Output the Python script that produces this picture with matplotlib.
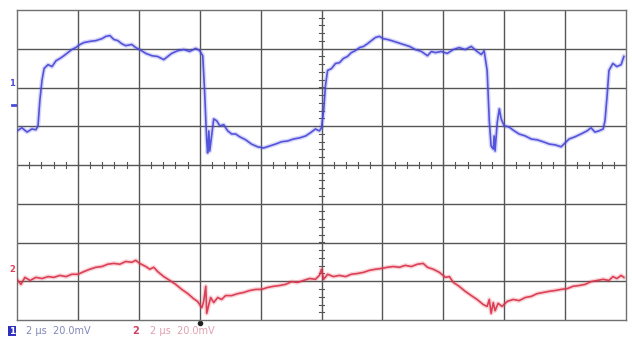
import matplotlib
matplotlib.use("Agg")
import matplotlib.pyplot as plt
import numpy as np

# Horizontal: 2 us/div, 10 divisions.  Vertical: 20 mV/div, 8 divisions (screen divisions).
t_ch1 = [0.00, 0.16, 0.33, 0.49, 0.62, 0.69, 0.75, 0.82, 0.89, 1.02, 1.15, 1.28, 1.41, 1.54,
         1.67, 1.80, 1.93, 2.07, 2.20, 2.39, 2.59, 2.79, 2.92, 3.05, 3.18, 3.31, 3.44, 3.57,
         3.77, 3.90, 4.03, 4.23, 4.43, 4.62, 4.82, 4.95, 5.08, 5.28, 5.48, 5.67, 5.87, 6.00,
         6.10, 6.16, 6.23, 6.26, 6.30, 6.33, 6.39, 6.46, 6.56, 6.66, 6.79, 6.92, 7.05, 7.18,
         7.31, 7.51, 7.70, 7.90, 8.10, 8.30, 8.49, 8.69, 8.89, 9.08, 9.28, 9.48, 9.67, 9.80,
         9.93, 10.00, 10.07, 10.13, 10.20, 10.33, 10.46, 10.59, 10.72, 10.85, 10.98, 11.11,
         11.25, 11.38, 11.51, 11.64, 11.77, 11.90, 12.03, 12.16, 12.30, 12.49, 12.69, 12.89,
         13.08, 13.28, 13.48, 13.61, 13.74, 13.93, 14.13, 14.33, 14.52, 14.72, 14.92, 15.11,
         15.25, 15.34, 15.44, 15.51, 15.57, 15.64, 15.67, 15.70, 15.77, 15.84, 15.90, 16.00,
         16.16, 16.33, 16.49, 16.69, 16.89, 17.08, 17.28, 17.48, 17.67, 17.87, 18.00, 18.13,
         18.33, 18.52, 18.72, 18.85, 18.98, 19.11, 19.25, 19.31, 19.38, 19.44, 19.57, 19.70,
         19.84, 19.93]
ch1_div = [0.88, 0.96, 0.85, 0.93, 0.91, 1.01, 1.66, 2.18, 2.49, 2.59, 2.54, 2.69, 2.75, 2.82,
           2.90, 2.98, 3.03, 3.11, 3.16, 3.19, 3.21, 3.26, 3.32, 3.34, 3.24, 3.21, 3.13, 3.08,
           3.11, 3.03, 2.98, 2.88, 2.82, 2.80, 2.72, 2.80, 2.88, 2.95, 2.98, 2.93, 3.01, 2.95,
           2.82, 1.92, 0.62, 0.31, 0.88, 0.36, 0.75, 1.19, 1.14, 1.01, 1.04, 0.88, 0.80, 0.80,
           0.73, 0.65, 0.54, 0.47, 0.44, 0.49, 0.54, 0.60, 0.62, 0.67, 0.70, 0.75, 0.85, 0.93,
           0.88, 0.96, 1.40, 2.05, 2.44, 2.49, 2.62, 2.64, 2.75, 2.80, 2.90, 2.95,
           3.03, 3.06, 3.13, 3.21, 3.29, 3.32, 3.26, 3.24, 3.21, 3.16, 3.11, 3.06,
           2.98, 2.93, 2.82, 2.93, 2.90, 2.93, 2.88, 2.98, 3.03, 2.98, 3.06, 2.93,
           2.85, 2.95, 2.44, 1.14, 0.49, 0.41, 0.75, 0.36, 1.09, 1.45, 1.19, 1.01,
           0.98, 0.88, 0.80, 0.75, 0.67, 0.65, 0.60, 0.54, 0.52, 0.47, 0.57, 0.67,
           0.73, 0.80, 0.88, 0.96, 0.85, 0.88, 0.93, 1.14, 1.79, 2.44, 2.62, 2.54,
           2.59, 2.80]

t_ch2 = [0.00, 0.13, 0.26, 0.43, 0.62, 0.82, 1.02, 1.21, 1.41, 1.61, 1.80, 2.00, 2.20, 2.39,
         2.59, 2.79, 2.98, 3.18, 3.38, 3.57, 3.77, 3.90, 4.03, 4.23, 4.36, 4.49, 4.62, 4.82,
         5.02, 5.21, 5.41, 5.61, 5.80, 5.93, 6.07, 6.13, 6.20, 6.23, 6.30, 6.36, 6.46, 6.59,
         6.72, 6.85, 7.05, 7.25, 7.44, 7.64, 7.84, 8.03, 8.23, 8.43, 8.62, 8.82, 9.02, 9.21,
         9.41, 9.61, 9.80, 9.93, 10.00, 10.07, 10.20, 10.39, 10.59, 10.79, 10.98, 11.18,
         11.38, 11.57, 11.77, 11.97, 12.16, 12.36, 12.56, 12.75, 12.95, 13.15, 13.34, 13.48,
         13.67, 13.87, 14.07, 14.20, 14.33, 14.52, 14.72, 14.92, 15.11, 15.31, 15.44, 15.51,
         15.57, 15.64, 15.70, 15.80, 15.93, 16.10, 16.30, 16.49, 16.69, 16.89, 17.08, 17.28,
         17.48, 17.67, 17.87, 18.07, 18.26, 18.46, 18.66, 18.85, 19.05, 19.25, 19.44, 19.57,
         19.70, 19.84, 19.93]
ch2_div = [-2.95, -3.08, -2.90, -2.98, -2.90, -2.93, -2.88, -2.90, -2.85, -2.88, -2.82, -2.82,
           -2.75, -2.69, -2.64, -2.62, -2.56, -2.54, -2.56, -2.49, -2.51, -2.46, -2.54, -2.62,
           -2.69, -2.64, -2.75, -2.88, -2.98, -3.08, -3.21, -3.32, -3.45, -3.52, -3.68, -3.52,
           -3.13, -3.83, -3.60, -3.42, -3.55, -3.42, -3.47, -3.37, -3.37, -3.32, -3.29, -3.24,
           -3.21, -3.21, -3.16, -3.13, -3.11, -3.08, -3.01, -3.03, -2.98, -2.93, -2.95, -2.85,
           -2.69, -2.95, -2.82, -2.88, -2.85, -2.88, -2.82, -2.80, -2.77, -2.72, -2.69, -2.67,
           -2.64, -2.62, -2.64, -2.59, -2.62, -2.56, -2.54, -2.64, -2.69, -2.77, -2.90, -2.88,
           -3.03, -3.13, -3.26, -3.37, -3.47, -3.60, -3.65, -3.47, -3.83, -3.55, -3.76, -3.57,
           -3.65, -3.52, -3.47, -3.50, -3.42, -3.39, -3.32, -3.29, -3.26, -3.24, -3.21, -3.19,
           -3.13, -3.11, -3.08, -3.01, -2.98, -2.95, -2.98, -2.88, -2.93, -2.85, -2.90]

readout_ch1 = "2 \u00b5s  20.0mV"
readout_ch2 = "2 \u00b5s  20.0mV"
trigger_time = 6.0

W, H = 632, 340
fig = plt.figure(figsize=(W / 100, H / 100), dpi=100)
ax = fig.add_axes([17 / W, (H - 320) / H, (626 - 17) / W, (320 - 10) / H])
ax.set_xlim(0, 20)
ax.set_ylim(-4, 4)
ax.set_xticks([])
ax.set_yticks([])
for s in ax.spines.values():
    s.set_color("#707070")
    s.set_linewidth(1.0)

grid_col = "#555555"
for gx in np.arange(2, 20, 2):
    ax.axvline(gx, color=grid_col, lw=1.0, zorder=1)
for gy in np.arange(-3, 4, 1):
    ax.axhline(gy, color=grid_col, lw=1.0, zorder=1)

# minor ticks on the centre cross
for mx in np.arange(0, 20.01, 0.4):
    ax.plot([mx, mx], [-0.07, 0.07], color=grid_col, lw=0.8, zorder=1)
for my in np.arange(-4, 4.01, 0.2):
    ax.plot([9.93, 10.07], [my, my], color=grid_col, lw=0.8, zorder=1)

# traces: soft phosphor halo under a sharper core line
ax.plot(t_ch1, ch1_div, color="#6060e8", lw=3.2, alpha=0.25, zorder=2)
ax.plot(t_ch1, ch1_div, color="#4545d8", lw=1.2, alpha=0.9, zorder=3)
ax.plot(t_ch2, ch2_div, color="#e85060", lw=3.2, alpha=0.25, zorder=2)
ax.plot(t_ch2, ch2_div, color="#d83048", lw=1.2, alpha=0.9, zorder=3)

# channel reference markers at the left edge
ax.text(-0.06, 2.1, "1", color="#4b4be0", fontsize=6, ha="right", va="center",
        clip_on=False, fontweight="bold")
ax.plot([-0.18, -0.04], [1.55, 1.55], color="#4b4be0", lw=2, clip_on=False)
ax.text(-0.06, -2.7, "2", color="#e0405a", fontsize=6, ha="right", va="center",
        clip_on=False, fontweight="bold")

# trigger position marker
ax.plot([trigger_time], [-4.07], marker="o", ms=3, color="#222222", clip_on=False)

# bottom readout
fig.text(9 / W, 1 - 331 / H, "1", color="white", fontsize=6.5, fontweight="bold",
         va="center", ha="left",
         bbox=dict(boxstyle="square,pad=0.1", fc="#3030c0", ec="none"))
fig.text(26 / W, 1 - 331 / H, readout_ch1, color="#8088b8", fontsize=7, va="center", ha="left")
fig.text(132 / W, 1 - 331 / H, "2", color="#d04060", fontsize=7, fontweight="bold",
         va="center", ha="left")
fig.text(150 / W, 1 - 331 / H, readout_ch2, color="#e0a0b0", fontsize=7, va="center", ha="left")

fig.savefig("out.png", dpi=100, facecolor="white")
